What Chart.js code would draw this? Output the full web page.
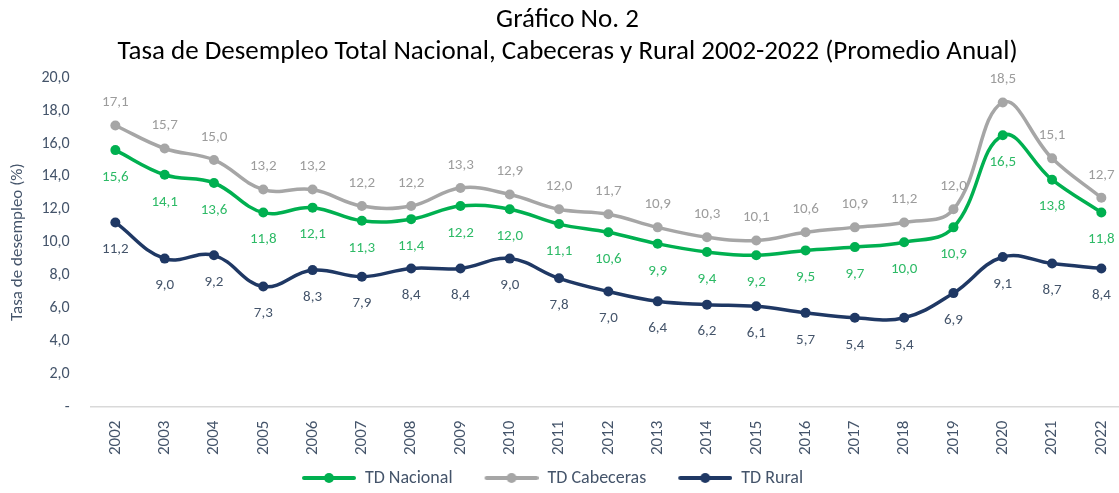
<!DOCTYPE html>
<html>
<head>
<meta charset="utf-8">
<script src="https://cdn.jsdelivr.net/npm/chart.js@4/dist/chart.umd.min.js"></script>
<style>
  html, body { margin: 0; padding: 0; background: #fff; overflow: hidden; }
  #wrap { width: 1131px; height: 493px; }
</style>
</head>
<body>
<div id="wrap"><canvas id="myChart"></canvas></div>
<script>
// Data
var years = ['2002','2003','2004','2005','2006','2007','2008','2009','2010','2011',
             '2012','2013','2014','2015','2016','2017','2018','2019','2020','2021','2022'];
var tdNacional   = [15.6,14.1,13.6,11.8,12.1,11.3,11.4,12.2,12.0,11.1,10.6,9.9,9.4,9.2,9.5,9.7,10.0,10.9,16.5,13.8,11.8];
var tdCabeceras  = [17.1,15.7,15.0,13.2,13.2,12.2,12.2,13.3,12.9,12.0,11.7,10.9,10.3,10.1,10.6,10.9,11.2,12.0,18.5,15.1,12.7];
var tdRural      = [11.2,9.0,9.2,7.3,8.3,7.9,8.4,8.4,9.0,7.8,7.0,6.4,6.2,6.1,5.7,5.4,5.4,6.9,9.1,8.7,8.4];

var FONT = "Carlito, Lato, 'Open Sans', sans-serif";
var SLATE = '#44546A';

// line+dot image for the legend (transparent margin on the left = gap between items)
function legendIcon(color) {
    var c = document.createElement('canvas');
    c.width = 78; c.height = 12;
    var g = c.getContext('2d');
    g.strokeStyle = color; g.lineWidth = 4; g.lineCap = 'round';
    g.beginPath(); g.moveTo(26, 6); g.lineTo(76, 6); g.stroke();
    g.fillStyle = color;
    g.beginPath(); g.arc(51, 6, 5, 0, Math.PI * 2); g.fill();
    return c;
}

function fmt(v) {
    return v.toFixed(1).replace('.', ',');
}

// draws value labels next to each point
var valueLabels = {
    id: 'valueLabels',
    afterDatasetsDraw: function(chart) {
        var ctx = chart.ctx;
        chart.data.datasets.forEach(function(ds, i) {
            var meta = chart.getDatasetMeta(i);
            ctx.save();
            ctx.font = '15px ' + FONT;
            ctx.fillStyle = ds.labelColor;
            ctx.textAlign = 'center';
            ctx.textBaseline = 'middle';
            meta.data.forEach(function(pt, j) {
                ctx.fillText(fmt(ds.data[j]), pt.x, pt.y + ds.labelOffset);
            });
            ctx.restore();
        });
    }
};

// legend sits a bit left of centre in the original
var legendShift = {
    id: 'legendShift',
    afterLayout: function(chart) {
        chart.legend.left -= 27;
        chart.legend.right -= 27;
    }
};

var ctx = document.getElementById('myChart').getContext('2d');
new Chart(ctx, {
    type: 'line',
    data: {
        labels: years,
        datasets: [{
            label: 'TD Nacional',
            data: tdNacional,
            borderColor: '#00B050',
            backgroundColor: '#00B050',
            labelColor: '#2DBA66',
            labelOffset: 27,
            icon: legendIcon('#00B050')
        }, {
            label: 'TD Cabeceras',
            data: tdCabeceras,
            borderColor: '#A6A6A6',
            backgroundColor: '#A6A6A6',
            labelColor: '#9C9C9C',
            labelOffset: -23,
            icon: legendIcon('#A6A6A6')
        }, {
            label: 'TD Rural',
            data: tdRural,
            borderColor: '#1F3864',
            backgroundColor: '#1F3864',
            labelColor: SLATE,
            labelOffset: 27,
            icon: legendIcon('#1F3864')
        }]
    },
    options: {
        responsive: true,
        maintainAspectRatio: false,
        animation: false,
        layout: { padding: { left: 4, right: 0, top: 2, bottom: -4 } },
        elements: {
            line: { borderWidth: 3.5, tension: 0.4, fill: false },
            point: { radius: 5, hoverRadius: 5, borderWidth: 0 }
        },
        plugins: {
            title: {
                display: true,
                text: ['Gráfico No. 2', 'Tasa de Desempleo Total Nacional, Cabeceras y Rural 2002-2022 (Promedio Anual)'],
                color: '#000',
                font: { family: FONT, size: 27, weight: 'normal', lineHeight: 1.2 },
                padding: { top: 2, bottom: 9 }
            },
            legend: {
                position: 'bottom',
                labels: {
                    usePointStyle: true,
                    pointStyleWidth: 78,
                    color: SLATE,
                    font: { family: FONT, size: 18 },
                    padding: 8,
                    generateLabels: function(chart) {
                        return chart.data.datasets.map(function(ds, i) {
                            return {
                                text: ds.label,
                                pointStyle: ds.icon,
                                fontColor: SLATE,
                                strokeStyle: ds.borderColor,
                                fillStyle: ds.borderColor,
                                lineWidth: 0,
                                datasetIndex: i
                            };
                        });
                    }
                }
            },
            tooltip: { enabled: false }
        },
        scales: {
            x: {
                offset: true,
                grid: { display: false },
                border: { color: '#D9D9D9', width: 1.5 },
                ticks: {
                    color: SLATE,
                    font: { family: FONT, size: 17 },
                    maxRotation: 90,
                    minRotation: 90,
                    padding: 6
                }
            },
            y: {
                min: 0,
                max: 20,
                grid: { display: false },
                border: { display: false },
                title: {
                    display: true,
                    text: 'Tasa de desempleo (%)',
                    color: SLATE,
                    font: { family: FONT, size: 17 },
                    padding: { bottom: 0 }
                },
                ticks: {
                    stepSize: 2,
                    color: SLATE,
                    font: { family: FONT, size: 16 },
                    padding: 13,
                    callback: function(v) { return v === 0 ? '-' : fmt(v); }
                }
            }
        }
    },
    plugins: [valueLabels, legendShift]
});
</script>
</body>
</html>
